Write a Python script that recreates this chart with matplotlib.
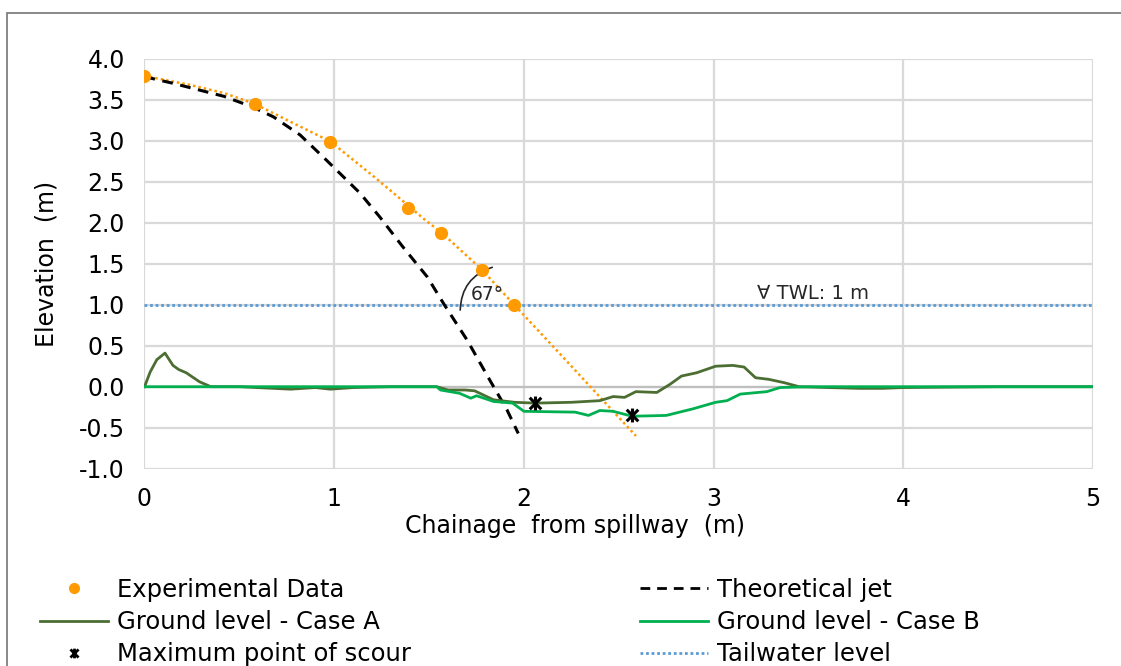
import matplotlib.pyplot as plt
from matplotlib.lines import Line2D
from matplotlib.path import Path
from matplotlib.patches import Rectangle
from matplotlib.ticker import FormatStrFormatter

plt.rcParams['font.family'] = ['DejaVu Sans']

# experimental jet data (chainage m, elevation m)
exp_x = [0.0, 0.58, 0.98, 1.39, 1.565, 1.777, 1.948]
exp_y = [3.79, 3.45, 2.99, 2.18, 1.88, 1.42, 1.00]

# dotted trendline through the experimental data
trend_x = [0.0, 0.24, 0.42, 0.58, 0.77, 0.98, 1.21, 1.39, 1.47, 1.565, 1.777, 1.948, 2.17, 2.43, 2.59]
trend_y = [3.79, 3.68, 3.58, 3.45, 3.23, 2.99, 2.56, 2.21, 2.05, 1.88, 1.43, 1.00, 0.45, -0.20, -0.60]

# theoretical jet
jet_x = [0.0, 0.15, 0.42, 0.57, 0.68, 0.82, 0.96, 1.136, 1.24, 1.36, 1.49, 1.58, 1.70, 1.82, 1.91, 1.97]
jet_y = [3.78, 3.70, 3.54, 3.41, 3.29, 3.07, 2.76, 2.36, 2.07, 1.71, 1.34, 1.00, 0.57, 0.08, -0.28, -0.57]

# ground level profiles
case_a_x = [0.0, 0.03, 0.065, 0.108, 0.15, 0.18, 0.22, 0.29, 0.35, 0.5, 0.77, 0.9, 0.98, 1.1,
            1.3, 1.54, 1.60, 1.69, 1.74, 1.84, 1.95, 2.06, 2.25, 2.40, 2.47, 2.53, 2.59, 2.70,
            2.77, 2.83, 2.91, 3.01, 3.10, 3.16, 3.22, 3.29, 3.37, 3.45, 3.6, 3.77, 3.89, 4.0,
            4.5, 5.0]
case_a_y = [0.0, 0.18, 0.33, 0.41, 0.26, 0.21, 0.17, 0.06, 0.0, 0.0, -0.03, -0.01, -0.03, -0.01,
            0.0, 0.0, -0.04, -0.04, -0.05, -0.16, -0.19, -0.20, -0.19, -0.17, -0.12, -0.13, -0.06,
            -0.07, 0.03, 0.13, 0.17, 0.25, 0.26, 0.24, 0.11, 0.09, 0.05, 0.0, -0.01, -0.02, -0.02,
            -0.01, 0.0, 0.0]

case_b_x = [0.0, 1.54, 1.56, 1.66, 1.72, 1.75, 1.84, 1.94, 2.0, 2.27, 2.34, 2.40, 2.47, 2.57,
            2.75, 2.89, 3.01, 3.07, 3.14, 3.28, 3.35, 3.5, 4.0, 4.5, 5.0]
case_b_y = [0.0, 0.0, -0.04, -0.08, -0.14, -0.11, -0.18, -0.20, -0.30, -0.31, -0.35, -0.29,
            -0.30, -0.36, -0.35, -0.27, -0.19, -0.17, -0.09, -0.06, -0.01, 0.0, 0.0, 0.0, 0.0]

# maximum point of scour
scour_x = [2.06, 2.57]
scour_y = [-0.20, -0.35]

tailwater = 1.0
x_ticks = [0, 1, 2, 3, 4, 5]
y_ticks = [-1.0, -0.5, 0.0, 0.5, 1.0, 1.5, 2.0, 2.5, 3.0, 3.5, 4.0]

orange = '#FF9A00'
green_a = '#4C6E33'
green_b = '#00B050'
blue = '#5B9BD5'

# asterisk marker: an x with a vertical bar
star = Path([(-1, -1), (1, 1), (-1, 1), (1, -1), (0, -1.2), (0, 1.2)],
            [Path.MOVETO, Path.LINETO] * 3)

fig = plt.figure(figsize=(11.21, 6.66), dpi=100)
fig.patches.append(Rectangle((7 / 1121, -0.1), 1.2, 1.1 - 13 / 666, transform=fig.transFigure,
                             fill=False, edgecolor='#808080', lw=1.3))
ax = fig.add_axes([0.1289, 0.2962, 0.8463, 0.6157])

for s in ax.spines.values():
    s.set_visible(False)
ax.set_xlim(0, 5)
ax.set_ylim(-1, 4)
ax.set_xticks(x_ticks)
ax.set_yticks(y_ticks)
ax.yaxis.set_major_formatter(FormatStrFormatter('%.1f'))
ax.grid(True, color='#D9D9D9', lw=1.6)
ax.set_axisbelow(True)
ax.tick_params(length=0, labelsize=17)
ax.tick_params(axis='y', pad=14)
ax.tick_params(axis='x', pad=13)
ax.axhline(0, color='#BFBFBF', lw=1.6, zorder=1)

ax.axhline(tailwater, color=blue, lw=2, ls=(0, (1, 1)), zorder=2)
ax.plot(trend_x, trend_y, color=orange, lw=1.8, ls=(0, (1, 1.2)), zorder=3)
ax.plot(jet_x, jet_y, color='black', lw=2.2, ls=(0, (3.5, 2.5)), zorder=3)
ax.plot(case_a_x, case_a_y, color=green_a, lw=2, zorder=4)
ax.plot(case_b_x, case_b_y, color=green_b, lw=2, zorder=4)
ax.plot(exp_x, exp_y, 'o', color=orange, ms=8.5, zorder=5)
ax.plot(scour_x, scour_y, ls='none', marker=star, ms=10, mec='black', mfc='none', mew=2.2, zorder=6)

# jet impact angle
ax.annotate('', xy=(1.833, 1.456), xytext=(1.664, 0.935),
            arrowprops=dict(arrowstyle='-', color='#262626', lw=1.2,
                            connectionstyle='arc3,rad=-0.35', shrinkA=0, shrinkB=0))
ax.text(1.808, 1.13, '67°', fontsize=13.5, color='#262626', ha='center', va='center')
ax.text(3.227, 1.14, '∀ TWL: 1 m', fontsize=14, color='#262626', ha='left', va='center')

ax.set_ylabel('Elevation  (m)', fontsize=17, va='center')
ax.yaxis.set_label_coords(-0.103, 0.5)
ax.set_xlabel('Chainage  from spillway  (m)', fontsize=17)
ax.xaxis.set_label_coords(0.454, -0.11)

h_exp = Line2D([], [], ls='none', marker='o', color=orange, ms=7)
h_jet = Line2D([], [], color='black', lw=2, ls=(0, (3.5, 2.5)))
h_a = Line2D([], [], color=green_a, lw=2)
h_b = Line2D([], [], color=green_b, lw=2)
h_scour = Line2D([], [], ls='none', marker=star, ms=7, mec='black', mfc='none', mew=2)
h_twl = Line2D([], [], color=blue, lw=2, ls=(0, (1, 1)))

leg_kw = dict(frameon=False, fontsize=17.5, borderpad=0, borderaxespad=0, handlelength=2.8,
              handletextpad=0.35, labelspacing=0.33, loc='upper left')
fig.legend([h_exp, h_a, h_scour],
           ['Experimental Data', 'Ground level - Case A', 'Maximum point of scour'],
           bbox_to_anchor=(40 / 1121, 1 - 578 / 666), **leg_kw)
fig.legend([h_jet, h_b, h_twl],
           ['Theoretical jet', 'Ground level - Case B', 'Tailwater level'],
           bbox_to_anchor=(640 / 1121, 1 - 578 / 666), **leg_kw)

fig.savefig('out.png', dpi=100)
